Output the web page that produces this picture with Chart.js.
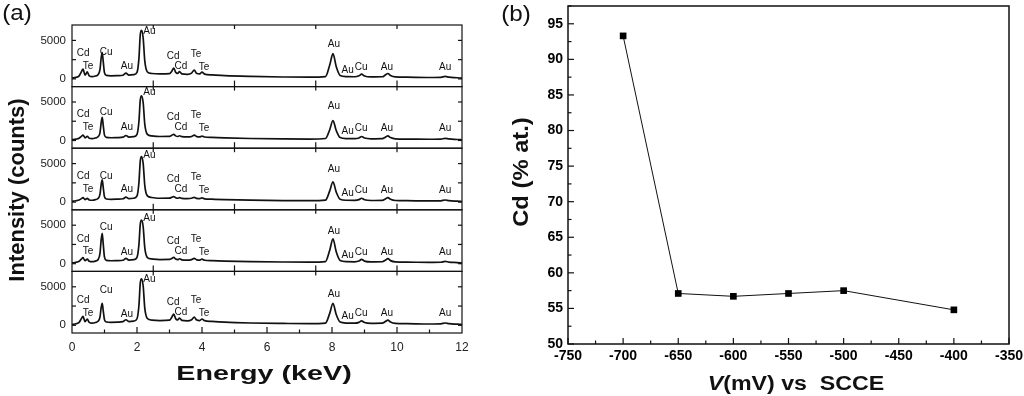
<!DOCTYPE html>
<html><head><meta charset="utf-8">
<script src="https://cdn.jsdelivr.net/npm/chart.js@4.4.1/dist/chart.umd.min.js"></script>
<style>
html,body{margin:0;padding:0;background:#fff;}
#wrap{position:relative;width:1024px;height:396px;overflow:hidden;font-family:"Liberation Sans",Arial,sans-serif;color:#111;}
canvas{position:absolute;top:0;}
.t{position:absolute;white-space:pre;line-height:1;transform-origin:center center;}
</style></head><body>
<div id="wrap">
<canvas id="ca" width="470" height="396" style="left:0px"></canvas>
<canvas id="cb" width="554" height="396" style="left:470px"></canvas>
<div class="t" style="left:17px;top:13px;font-size:22px;transform:translate(-50%,-50%) scaleX(1.1);">(a)</div>
<div class="t" style="left:516px;top:14px;font-size:22px;transform:translate(-50%,-50%) scaleX(1.1);">(b)</div>
<div class="t" style="left:17px;top:190px;font-size:22px;font-weight:bold;transform:translate(-50%,-50%) rotate(-90deg);">Intensity (counts)</div>
<div class="t" style="left:264px;top:373px;font-size:20.5px;font-weight:bold;transform:translate(-50%,-50%) scaleX(1.4);">Energy (keV)</div>
<div class="t" style="left:521px;top:172px;font-size:22px;font-weight:bold;transform:translate(-50%,-50%) rotate(-90deg) scaleX(1.08);">Cd (% at.)</div>
<div class="t" style="left:796px;top:383px;font-size:20px;font-weight:bold;transform:translate(-50%,-50%) scaleX(1.16);"><span style="font-style:italic">V</span>(mV) vs  SCCE</div>
</div>
<script>
const FONT = "'Liberation Sans', Arial, sans-serif";
Chart.defaults.font.family = FONT;

// ---------- Panel (a): EDS spectra ----------
const energies = [0, 0.12, 0.22, 0.28, 0.34, 0.40, 0.47, 0.53, 0.62, 0.72, 0.80, 0.86, 0.90, 0.93, 0.96, 1.00, 1.06, 1.2, 1.4, 1.57, 1.66, 1.75, 1.9, 2.0, 2.06, 2.10, 2.14, 2.19, 2.24, 2.32, 2.45, 2.7, 3.0, 3.07, 3.13, 3.19, 3.25, 3.31, 3.38, 3.55, 3.68, 3.76, 3.84, 3.93, 4.00, 4.08, 4.3, 4.7, 5.5, 6.5, 7.3, 7.8, 7.93, 8.03, 8.13, 8.25, 8.45, 8.7, 8.83, 8.91, 9.0, 9.2, 9.55, 9.64, 9.72, 9.80, 9.95, 10.3, 11.0, 11.35, 11.48, 11.6, 11.85, 12.0];

const countsA = [100, 200, 400, 850, 1270, 500, 900, 400, 300, 380, 550, 1200, 2800, 3400, 2300, 800, 450, 400, 420, 480, 750, 500, 560, 850, 2700, 5700, 6300, 5300, 2300, 900, 700, 650, 680, 1000, 1400, 850, 700, 950, 650, 600, 750, 1150, 700, 650, 880, 620, 520, 420, 320, 250, 220, 300, 1800, 3280, 1600, 450, 300, 280, 400, 620, 380, 260, 280, 500, 700, 450, 260, 220, 180, 200, 320, 230, 150, 100];
const countsB = [100, 180, 300, 500, 700, 350, 550, 300, 250, 330, 480, 1000, 2400, 3000, 2000, 700, 400, 360, 380, 430, 650, 450, 500, 800, 2500, 5200, 5800, 4900, 2100, 800, 600, 520, 540, 680, 800, 600, 520, 620, 500, 460, 520, 700, 500, 460, 580, 450, 400, 340, 260, 210, 190, 260, 1400, 2600, 1300, 380, 250, 240, 330, 520, 320, 220, 240, 420, 600, 380, 220, 190, 160, 180, 280, 200, 130, 90];
const countsC = [100, 180, 280, 420, 580, 320, 480, 280, 240, 320, 470, 1000, 2350, 2900, 1950, 680, 400, 360, 380, 430, 640, 450, 500, 800, 2550, 5300, 5900, 5000, 2150, 800, 600, 500, 520, 620, 720, 560, 500, 580, 480, 440, 500, 620, 480, 440, 540, 430, 380, 320, 250, 200, 180, 250, 1450, 2640, 1300, 370, 240, 230, 320, 500, 310, 210, 230, 400, 580, 370, 210, 180, 150, 170, 270, 190, 120, 80];
const countsD = [100, 190, 320, 560, 780, 380, 600, 320, 260, 340, 520, 1300, 3200, 3950, 2600, 850, 430, 380, 400, 450, 680, 470, 520, 820, 2500, 5100, 5650, 4800, 2050, 800, 620, 540, 560, 680, 820, 600, 530, 640, 500, 460, 530, 700, 500, 460, 600, 450, 400, 340, 270, 220, 200, 280, 1750, 3230, 1550, 420, 270, 250, 350, 560, 340, 230, 250, 450, 650, 400, 230, 200, 170, 190, 300, 210, 140, 90];
const countsE = [100, 200, 380, 800, 1150, 480, 800, 380, 290, 370, 520, 1050, 2350, 2850, 1950, 720, 430, 390, 410, 470, 720, 490, 550, 850, 2600, 5450, 6040, 5100, 2200, 880, 680, 620, 660, 1050, 1450, 850, 700, 950, 640, 580, 720, 1050, 680, 620, 820, 600, 500, 400, 300, 240, 210, 290, 1550, 2840, 1400, 420, 290, 270, 380, 580, 360, 250, 270, 480, 680, 430, 250, 210, 170, 190, 300, 220, 140, 90];
const spectra = [countsA, countsB, countsC, countsD, countsE];

const yTicksA = [0, 5000];
const yMarksA = [0, 2500, 5000];
const xTicksA = [0, 2, 4, 6, 8, 10, 12];
const xInnerMarksA = [2.5, 5, 7.5, 10];
const xBottomMarksA = [1, 2, 3, 4, 5, 6, 7, 8, 9, 10, 11];

const peakLabelText = ['Cd', 'Te', 'Cu', 'Au', 'Au', 'Cd', 'Cd', 'Te', 'Te', 'Au', 'Au', 'Cu', 'Au', 'Au'];
const peakLabelEnergy = [0.34, 0.49, 1.05, 1.69, 2.38, 3.11, 3.35, 3.82, 4.06, 8.06, 8.48, 8.90, 9.69, 11.48];
const peakLabelCounts = [
  [3360, 1670, 3490, 1670, 6220, 2970, 1670, 3230, 1540, 4530, 1150, 1540, 1540, 1540],
  [3360, 1670, 3620, 1670, 6220, 2970, 1670, 3230, 1540, 4400, 1150, 1540, 1540, 1540],
  [3360, 1670, 3360, 1670, 6090, 2970, 1670, 3230, 1540, 4270, 1150, 1540, 1540, 1540],
  [3230, 1670, 4700, 1540, 5960, 2970, 1670, 3230, 1540, 4180, 1150, 1540, 1540, 1540],
  [3230, 1540, 4530, 1410, 5960, 2970, 1670, 3230, 1540, 4050, 1150, 1540, 1540, 1540]
];

// ---------- Panel (b): Cd content ----------
const potentials = [-700, -650, -600, -550, -500, -400];
const cdPercent = [93.3, 57.1, 56.7, 57.1, 57.5, 54.8];
const xTicksB = [-750, -700, -650, -600, -550, -500, -450, -400, -350];
const yTicksB = [50, 55, 60, 65, 70, 75, 80, 85, 90, 95];

function line(ctx, x1, y1, x2, y2) { ctx.beginPath(); ctx.moveTo(x1, y1); ctx.lineTo(x2, y2); ctx.stroke(); }
const plain = v => String(v);

const scalesA = {
  x: {
    type: 'linear', position: 'bottom', min: 0, max: 12,
    grid: { display: false, drawTicks: false }, border: { display: false },
    ticks: { padding: 7, autoSkip: false, maxRotation: 0, font: { size: 12, family: FONT }, color: '#222', callback: plain },
    afterBuildTicks: s => { s.ticks = xTicksA.map(v => ({ value: v })); },
    afterFit: s => { s.height = 63; s.paddingLeft = 0; s.paddingRight = 0; }
  }
};
spectra.forEach((c, i) => {
  scalesA['y' + i] = {
    type: 'linear', position: 'left', stack: 'eds', stackWeight: 1, weight: 5 - i,
    min: -1000, max: 7000,
    grid: { display: false, drawTicks: false }, border: { display: false },
    ticks: { padding: 6, autoSkip: false, font: { size: 11.5, family: FONT }, color: '#222', callback: plain },
    afterBuildTicks: s => { s.ticks = yTicksA.map(v => ({ value: v })); },
    afterFit: s => { s.width = 72; s.paddingTop = 0; s.paddingBottom = 0; }
  };
});

const edsDecor = {
  id: 'edsDecor',
  afterDatasetsDraw(chart) {
    const ctx = chart.ctx, xs = chart.scales.x;
    const L = chart.chartArea.left, R = chart.chartArea.right;
    ctx.save();
    ctx.strokeStyle = '#111';
    ctx.lineWidth = 1.2;
    spectra.forEach((c, i) => {
      const ys = chart.scales['y' + i];
      const T = ys.top, B = ys.bottom;
      ctx.strokeRect(L, T, R - L, B - T);
      yMarksA.forEach(v => {
        const y = ys.getPixelForValue(v);
        line(ctx, L, y, L + 4, y);
        line(ctx, R, y, R - 4, y);
      });
      xInnerMarksA.forEach(v => {
        const x = xs.getPixelForValue(v);
        line(ctx, x, T, x, T + 4);
        if (i < spectra.length - 1) line(ctx, x, B, x, B - 6);
      });
      if (i === spectra.length - 1) {
        xBottomMarksA.forEach(v => {
          const x = xs.getPixelForValue(v);
          line(ctx, x, B, x, B - (v % 2 === 0 ? 6 : 3.5));
        });
      }
      ctx.fillStyle = '#111';
      ctx.font = "10px " + FONT;
      ctx.textAlign = 'center';
      ctx.textBaseline = 'middle';
      peakLabelText.forEach((t, j) => {
        ctx.fillText(t, xs.getPixelForValue(peakLabelEnergy[j]), ys.getPixelForValue(peakLabelCounts[i][j]));
      });
    });
    ctx.restore();
  }
};

new Chart(document.getElementById('ca'), {
  type: 'line',
  data: {
    datasets: spectra.map((c, i) => ({
      data: energies.map((e, k) => ({ x: e, y: c[k] })),
      xAxisID: 'x', yAxisID: 'y' + i,
      borderColor: '#111', borderWidth: 1.7, pointRadius: 0,
      cubicInterpolationMode: 'monotone', fill: false
    }))
  },
  options: {
    responsive: false, animation: false,
    layout: { padding: { left: 0, right: 8, top: 25, bottom: 0 } },
    plugins: { legend: { display: false }, tooltip: { enabled: false } },
    scales: scalesA
  },
  plugins: [edsDecor]
});

const cdDecor = {
  id: 'cdDecor',
  afterDatasetsDraw(chart) {
    const ctx = chart.ctx, xs = chart.scales.x, ys = chart.scales.y;
    const { left: L, right: R, top: T, bottom: B } = chart.chartArea;
    ctx.save();
    ctx.strokeStyle = '#111';
    ctx.lineWidth = 1.5;
    ctx.strokeRect(L, T, R - L, B - T);
    ctx.lineWidth = 1.2;
    for (let v = xTicksB[0]; v <= xTicksB[xTicksB.length - 1]; v += 25) {
      const x = xs.getPixelForValue(v);
      line(ctx, x, B, x, B - (xTicksB.includes(v) ? 6 : 3.5));
    }
    for (let v = yTicksB[0]; v <= 97.5; v += 2.5) {
      const y = ys.getPixelForValue(v);
      line(ctx, L, y, L + (yTicksB.includes(v) ? 6 : 3.5), y);
    }
    ctx.restore();
  }
};

new Chart(document.getElementById('cb'), {
  type: 'line',
  data: {
    datasets: [{
      data: potentials.map((p, k) => ({ x: p, y: cdPercent[k] })),
      borderColor: '#111', borderWidth: 1, tension: 0,
      pointStyle: 'rect', pointRadius: 4.7, pointBackgroundColor: '#000', pointBorderColor: '#000', pointBorderWidth: 0,
      fill: false
    }]
  },
  options: {
    responsive: false, animation: false,
    layout: { padding: { left: 0, right: 15, top: 6, bottom: 0 } },
    plugins: { legend: { display: false }, tooltip: { enabled: false } },
    scales: {
      x: {
        type: 'linear', min: -750, max: -350,
        grid: { display: false, drawTicks: false }, border: { display: false },
        ticks: { padding: 4, autoSkip: false, maxRotation: 0, font: { size: 14, weight: 'bold', family: FONT }, color: '#000', callback: plain },
        afterBuildTicks: s => { s.ticks = xTicksB.map(v => ({ value: v })); },
        afterFit: s => { s.height = 52; s.paddingLeft = 0; s.paddingRight = 0; }
      },
      y: {
        type: 'linear', min: 50, max: 97.5,
        grid: { display: false, drawTicks: false }, border: { display: false },
        ticks: { padding: 5, autoSkip: false, font: { size: 14, weight: 'bold', family: FONT }, color: '#000', callback: plain },
        afterBuildTicks: s => { s.ticks = yTicksB.map(v => ({ value: v })); },
        afterFit: s => { s.width = 98; s.paddingTop = 0; s.paddingBottom = 0; }
      }
    }
  },
  plugins: [cdDecor]
});
</script>
</body></html>
